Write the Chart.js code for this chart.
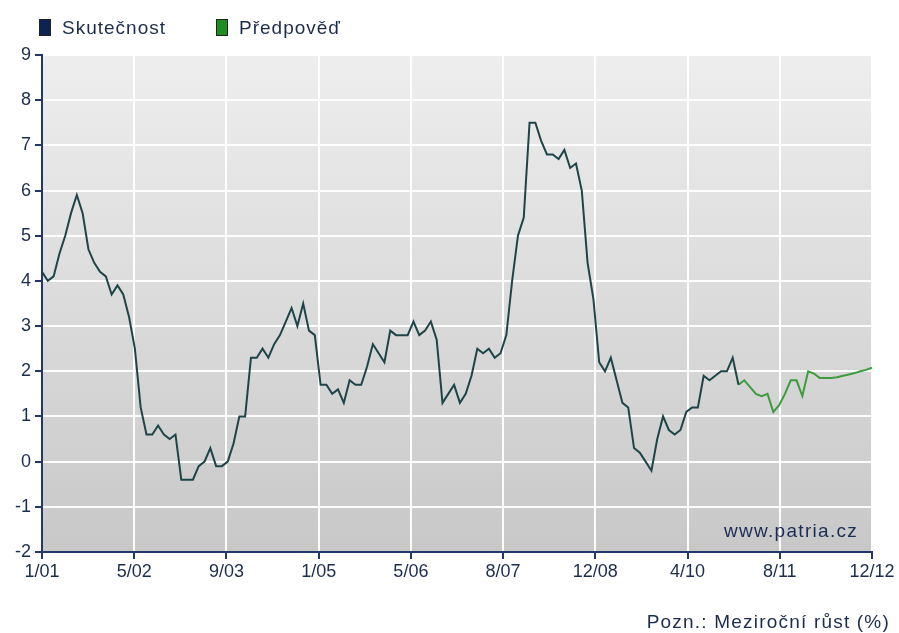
<!DOCTYPE html>
<html>
<head>
<meta charset="utf-8">
<title>Meziroční růst</title>
<script src="https://cdn.jsdelivr.net/npm/chart.js@4.4.1/dist/chart.umd.min.js"></script>
<style>
    body { margin: 0; background: #fff; font-family: "Liberation Sans", Arial, sans-serif; color: #1c2d4c; }
    #wrap { position: relative; width: 899px; height: 633px; }
    #inflationChart { position: absolute; left: 0; top: 0; }
    .legend-item { position: absolute; top: 17px; font-size: 19px; letter-spacing: 1px; line-height: 22px; }
    .legend-item .box { display: inline-block; width: 10px; height: 15px; border: 1px solid #222; vertical-align: -2px; margin-right: 11px; }
    #watermark { position: absolute; left: 724px; top: 520px; font-size: 19px; letter-spacing: 1.3px; color: #1c2d55; }
    #note { position: absolute; right: 9px; top: 611px; font-size: 19px; letter-spacing: 1.2px; }
</style>
</head>
<body>
<div id="wrap">
    <canvas id="inflationChart" width="899" height="633"></canvas>
    <div class="legend-item" style="left:39px"><span class="box" style="background:#0c2452"></span>Skutečnost</div>
    <div class="legend-item" style="left:216px"><span class="box" style="background:#1e8c1e"></span>Předpověď</div>
    <div id="watermark">www.patria.cz</div>
    <div id="note">Pozn.: Meziroční růst (%)</div>
</div>
<script>
// x axis: months 1/01 .. 12/12 (index 0..143), 10 evenly spaced labels
const tickLabels = ["1/01", "5/02", "9/03", "1/05", "5/06", "8/07", "12/08", "4/10", "8/11", "12/12"];
const lastMonth = 143;

// Skutečnost, monthly from 1/01 to 1/11
const actualValues = [
    4.2, 4.0, 4.1, 4.6, 5.0, 5.5, 5.9, 5.5, 4.7, 4.4, 4.2, 4.1,
    3.7, 3.9, 3.7, 3.2, 2.5, 1.2, 0.6, 0.6, 0.8, 0.6, 0.5, 0.6,
    -0.4, -0.4, -0.4, -0.1, 0.0, 0.3, -0.1, -0.1, 0.0, 0.4, 1.0, 1.0,
    2.3, 2.3, 2.5, 2.3, 2.6, 2.8, 3.1, 3.4, 3.0, 3.5, 2.9, 2.8,
    1.7, 1.7, 1.5, 1.6, 1.3, 1.8, 1.7, 1.7, 2.1, 2.6, 2.4, 2.2,
    2.9, 2.8, 2.8, 2.8, 3.1, 2.8, 2.9, 3.1, 2.7, 1.3, 1.5, 1.7,
    1.3, 1.5, 1.9, 2.5, 2.4, 2.5, 2.3, 2.4, 2.8, 4.0, 5.0, 5.4,
    7.5, 7.5, 7.1, 6.8, 6.8, 6.7, 6.9, 6.5, 6.6, 6.0, 4.4, 3.6,
    2.2, 2.0, 2.3, 1.8, 1.3, 1.2, 0.3, 0.2, 0.0, -0.2, 0.5, 1.0,
    0.7, 0.6, 0.7, 1.1, 1.2, 1.2, 1.9, 1.8, 1.9, 2.0, 2.0, 2.3,
    1.7
];

// Předpověď, monthly from 1/11 to 12/12
const forecastStart = 120;
const forecastValues = [
    1.7, 1.8, 1.65, 1.5, 1.45, 1.5, 1.1, 1.25, 1.5, 1.8, 1.8, 1.45,
    2.0, 1.95, 1.85, 1.85, 1.85, 1.87, 1.9, 1.93, 1.96, 2.0, 2.03, 2.08
];

const axisColor = "#22386a";
const textColor = "#1c2d4c";

const plotBackground = {
    id: "plotBackground",
    beforeDraw(chart) {
        const { ctx, chartArea } = chart;
        const grad = ctx.createLinearGradient(0, chartArea.top, 0, chartArea.bottom);
        grad.addColorStop(0, "#eeeeee");
        grad.addColorStop(1, "#c8c8c8");
        ctx.save();
        ctx.fillStyle = grad;
        ctx.fillRect(chartArea.left, chartArea.top, chartArea.width, chartArea.height);
        ctx.restore();
    }
};

const chartConfig = {
    type: "line",
    data: {
        datasets: [{
            label: "Skutečnost",
            data: actualValues.map((v, i) => ({ x: i, y: v })),
            borderColor: "#1d4548",
            borderWidth: 2,
            pointRadius: 0,
            tension: 0
        }, {
            label: "Předpověď",
            data: forecastValues.map((v, i) => ({ x: forecastStart + i, y: v })),
            borderColor: "#3c9c3c",
            borderWidth: 2,
            pointRadius: 0,
            tension: 0
        }]
    },
    options: {
        responsive: false,
        animation: false,
        layout: { padding: { top: 55, right: 27, left: 0, bottom: 0 } },
        plugins: {
            legend: { display: false },
            tooltip: { enabled: false }
        },
        scales: {
            x: {
                type: "linear",
                min: 0,
                max: lastMonth,
                afterBuildTicks: (scale) => {
                    scale.ticks = tickLabels.map((l, k) => ({ value: k * lastMonth / (tickLabels.length - 1) }));
                },
                afterFit: (scale) => { scale.height = 81; },
                ticks: {
                    autoSkip: false,
                    maxRotation: 0,
                    padding: 2,
                    color: textColor,
                    font: { family: "'Liberation Sans', Arial, sans-serif", size: 18 },
                    callback: (value, index) => tickLabels[index]
                },
                grid: { color: "rgba(255,255,255,0.95)", lineWidth: 2, tickLength: 7, tickColor: axisColor, tickWidth: 2 },
                border: { color: axisColor, width: 2 }
            },
            y: {
                min: -2,
                max: 9,
                afterFit: (scale) => { scale.width = 42; },
                ticks: {
                    stepSize: 1,
                    padding: 4,
                    color: textColor,
                    font: { family: "'Liberation Sans', Arial, sans-serif", size: 18 }
                },
                grid: { color: "rgba(255,255,255,0.95)", lineWidth: 2, tickLength: 7, tickColor: axisColor, tickWidth: 2 },
                border: { color: axisColor, width: 2 }
            }
        }
    },
    plugins: [plotBackground]
};

new Chart(document.getElementById("inflationChart"), chartConfig);
</script>
</body>
</html>
